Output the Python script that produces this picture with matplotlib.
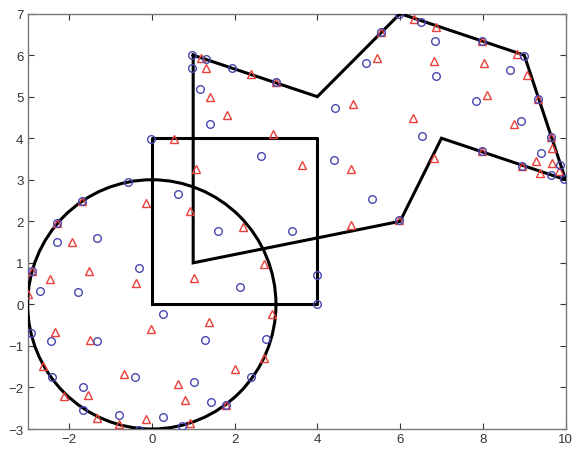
import matplotlib
matplotlib.use("Agg")
import matplotlib.pyplot as plt
from matplotlib.patches import Circle

# shapes
circle_center = (0, 0)
circle_radius = 3
square_x = [0, 4, 4, 0, 0]
square_y = [0, 0, 4, 4, 0]
poly_x = [1, 4, 6, 9, 10, 7, 6, 1, 1]
poly_y = [6, 5, 7, 6, 3, 4, 2, 1, 6]

# blue circles
blue_x = [-0.57, -1.69, -2.28, -2.28, -1.33, -0.31, -2.90, -2.70, -1.78, 0.27,
          -2.92, -2.43, -1.32, -2.42, -0.40, -1.66, -1.66, -0.80, -0.31, 0.27,
          2.12, 1.29, 2.75, 2.40, 1.01, 1.44, 1.80, 0.74, 2.63, 0.63,
          1.61, 0.97, 1.32, 0.97, 1.94, 2.99, 1.16, 1.40, 4.41, 5.33,
          5.98, 3.38, 3.98, 4.00, 5.98, 6.50, 5.53, 6.84, 5.17, 6.87,
          4.43, 6.54, 7.98, 8.99, 8.65, 9.33, 7.84, 8.93, 9.65, 7.98,
          9.40, 9.86, 8.95, 9.65, 9.95, -0.03]
blue_y = [2.94, 2.48, 1.96, 1.49, 1.61, 0.87, 0.80, 0.32, 0.30, -0.24,
          -0.68, -0.89, -0.89, -1.75, -1.75, -1.99, -2.54, -2.66, -3.02, -2.70,
          0.43, -0.86, -0.83, -1.76, -1.88, -2.35, -2.42, -2.92, 3.57, 2.66,
          1.76, 6.00, 5.90, 5.69, 5.68, 5.36, 5.19, 4.35, 3.48, 2.54,
          2.02, 1.77, 0.70, 0.00, 7.00, 6.79, 6.55, 6.34, 5.82, 5.49,
          4.73, 4.05, 6.35, 5.97, 5.64, 4.95, 4.90, 4.41, 4.03, 3.70,
          3.65, 3.36, 3.33, 3.12, 3.02, 3.97]

# red triangles
red_x = [-1.69, -0.15, -2.28, -1.93, -1.51, -2.46, -0.37, -2.90, -2.98, -0.01,
         -2.34, -1.49, -2.63, -0.67, -1.53, -2.11, -1.33, -0.80, -0.13, 2.91,
         1.38, 2.71, 2.00, 0.63, 0.81, 1.80, 0.92, 1.08, 0.92, 2.20,
         2.71, 1.01, 1.20, 1.32, 2.40, 2.99, 1.41, 1.82, 0.53, 2.94,
         3.62, 4.81, 4.81, 5.98, 6.34, 6.86, 5.53, 5.43, 6.82, 4.85,
         6.30, 7.98, 8.83, 8.02, 9.07, 9.33, 8.09, 8.75, 9.65, 7.98,
         9.67, 9.29, 9.67, 8.95, 9.39, 9.83, 6.82]
red_y = [2.48, 2.43, 1.96, 1.49, 0.80, 0.60, 0.51, 0.80, 0.24, -0.60,
         -0.67, -0.85, -1.49, -1.67, -2.17, -2.21, -2.74, -2.88, -2.75, -0.24,
         -0.43, -1.29, -1.55, -1.92, -2.31, -2.42, -2.86, 3.26, 2.25, 1.87,
         0.97, 0.64, 5.92, 5.69, 5.54, 5.36, 4.99, 4.57, 3.98, 4.11,
         3.36, 3.26, 1.92, 2.02, 6.88, 6.68, 6.55, 5.94, 5.86, 4.83,
         4.49, 6.35, 6.02, 5.82, 5.53, 4.95, 5.05, 4.35, 4.03, 3.70,
         3.76, 3.44, 3.40, 3.33, 3.16, 3.20, 3.53]

xticks = [-2, 0, 2, 4, 6, 8, 10]
yticks = [-3, -2, -1, 0, 1, 2, 3, 4, 5, 6, 7]

plt.rcParams['font.family'] = ['Liberation Sans', 'DejaVu Sans']

fig = plt.figure(figsize=(5.76, 4.56), dpi=100)
ax = fig.add_axes([0.048, 0.057, 0.934, 0.911])

ax.add_patch(Circle(circle_center, circle_radius, fill=False, color='k', lw=2.2, zorder=3))
ax.plot(square_x, square_y, color='k', lw=2.2, zorder=3)
ax.plot(poly_x, poly_y, color='k', lw=2.2, zorder=3, solid_joinstyle='miter')

ax.plot(red_x, red_y, linestyle='none', marker='^', markersize=5.5,
        markerfacecolor='none', markeredgecolor='#e8403a', markeredgewidth=1.0, zorder=4)
ax.plot(blue_x, blue_y, linestyle='none', marker='o', markersize=5.5,
        markerfacecolor='none', markeredgecolor='#4848b0', markeredgewidth=1.0, zorder=4)

ax.set_xlim(-3, 10)
ax.set_ylim(-3, 7)
ax.set_xticks(xticks)
ax.set_yticks(yticks)
ax.tick_params(direction='in', length=4, width=0.8, labelsize=9.5,
               top=True, right=True, colors='#333333', pad=3)
for s in ax.spines.values():
    s.set_color('#777777')
    s.set_linewidth(1.0)

fig.savefig('out.png', dpi=100)
